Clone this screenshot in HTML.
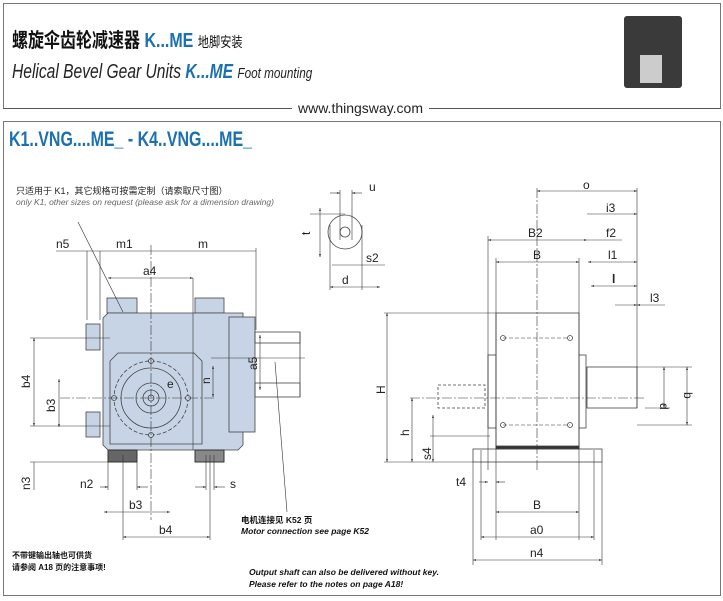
<!DOCTYPE html>
<html><head><meta charset="utf-8"><style>
body{margin:0;background:#fff;width:723px;height:601px;overflow:hidden;font-family:"Liberation Sans","Noto Sans CJK SC",sans-serif}
.abs{position:absolute;white-space:nowrap}
</style></head><body>
<div class="abs" style="left:3px;top:3px;width:716px;height:104px;border:1px solid #777;border-bottom:1.5px solid #555"></div>
<div class="abs" style="left:12px;top:24px;font-size:20px;font-weight:bold;color:#111;transform:scaleX(0.8);transform-origin:0 0">螺旋伞齿轮减速器 <span style="color:#1a70b0">K...ME</span> <span style="font-size:14px;font-weight:normal">地脚安装</span></div>
<div class="abs" style="left:12px;top:61px;font-size:20px;font-style:italic;color:#222;transform:scaleX(0.78);transform-origin:0 0">Helical Bevel Gear Units <b style="color:#1a70b0">K...ME</b> <span style="font-size:15px">Foot mounting</span></div>
<div class="abs" style="left:624px;top:16px;width:58px;height:72px;background:#3a3a3a;border-radius:3px"></div>
<div class="abs" style="left:640px;top:55px;width:22px;height:28px;background:#ccc"></div>
<div class="abs" style="left:292px;top:100px;background:#fff;padding:0 6px;font-size:14px;color:#222">www.thingsway.com</div>
<div class="abs" style="left:3px;top:121px;width:716px;height:473px;border:1px solid #777"></div>
<div class="abs" style="left:9px;top:128px;font-size:21px;font-weight:bold;color:#1a70b0;transform:scaleX(0.76);transform-origin:0 0">K1..VNG....ME_ - K4..VNG....ME_</div>
<div class="abs" style="left:16px;top:184px;font-size:9px;color:#222">只适用于 K1，其它规格可按需定制（请索取尺寸图）</div>
<div class="abs" style="left:16px;top:197px;font-size:8.5px;font-style:italic;color:#666">only K1, other sizes on request (please ask for a dimension drawing)</div>
<div class="abs" style="left:241px;top:514px;font-size:8.5px;font-weight:bold;color:#111">电机连接见 K52 页</div>
<div class="abs" style="left:241px;top:526px;font-size:8.5px;font-weight:bold;font-style:italic;color:#111">Motor connection see page K52</div>
<div class="abs" style="left:12px;top:550px;font-size:8px;font-weight:bold;color:#111">不带键输出轴也可供货</div>
<div class="abs" style="left:12px;top:562px;font-size:8px;font-weight:bold;color:#111">请参阅 A18 页的注意事项!</div>
<div class="abs" style="left:249px;top:567px;font-size:8.5px;font-weight:bold;font-style:italic;color:#111">Output shaft can also be delivered without key.</div>
<div class="abs" style="left:249px;top:579px;font-size:8.5px;font-weight:bold;font-style:italic;color:#111">Please refer to the notes on page A18!</div>
<svg class="abs" style="left:0;top:0" width="723" height="601" font-family="Liberation Sans" font-size="11" fill="#222">
<defs><marker id="a" viewBox="0 0 10 10" refX="10" refY="5" markerWidth="8" markerHeight="5" orient="auto-start-reverse"><path d="M0,2L10,5L0,8z" fill="#222"/></marker></defs>
<g stroke="#444" stroke-width="0.8" fill="#c7d4e6">
<rect x="107" y="298" width="30" height="15"/><rect x="195" y="298" width="29" height="15"/>
<rect x="86" y="324" width="14" height="26"/><rect x="86" y="412" width="14" height="25"/>
<path d="M108,313H243V445L238,450H108L103,445V318Z"/>
<rect x="229" y="317" width="26" height="115"/>
<path d="M118,353H194L202,361V444H110V361Z"/>
<circle cx="151" cy="398" r="30" fill="none"/><circle cx="151" cy="398" r="37" fill="none" stroke-dasharray="4 2"/>
<circle cx="151" cy="398" r="15"/><circle cx="151" cy="398" r="8"/><circle cx="151" cy="398" r="3"/>
<circle cx="151" cy="361" r="2.5"/><circle cx="151" cy="435" r="2.5"/><circle cx="114" cy="398" r="2.5"/><circle cx="188" cy="398" r="2.5"/>
</g>
<rect x="108" y="450" width="29" height="12" fill="#666" stroke="#333"/>
<rect x="195" y="450" width="29" height="12" fill="#888" stroke="#333"/>
<g fill="none" stroke="#444" stroke-width="0.8">
<rect x="255" y="332" width="45" height="11"/><rect x="255" y="383" width="45" height="14"/>
<line x1="300" y1="332" x2="300" y2="397"/>
<circle cx="345" cy="232" r="17"/><circle cx="345" cy="232" r="5"/>
</g>
<g stroke="#333" stroke-width="0.6" fill="none">
<line x1="151" y1="245" x2="151" y2="520" stroke-dasharray="10 2 2 2"/>
<line x1="60" y1="398" x2="215" y2="398" stroke-dasharray="10 2 2 2"/>
<line x1="78" y1="222" x2="123" y2="312"/><line x1="287" y1="512" x2="275" y2="362"/>
<line x1="211" y1="358" x2="305" y2="358"/>
<line x1="56" y1="251" x2="256" y2="251"/>
<line x1="108" y1="278" x2="193" y2="278" marker-start="url(#a)" marker-end="url(#a)"/>
<line x1="193" y1="278" x2="193" y2="450"/><line x1="87" y1="251" x2="87" y2="320"/><line x1="100" y1="251" x2="100" y2="320"/><line x1="256" y1="248" x2="256" y2="330"/>
<line x1="34" y1="338" x2="34" y2="426" marker-start="url(#a)" marker-end="url(#a)"/>
<line x1="30" y1="338" x2="110" y2="338"/><line x1="30" y1="426" x2="110" y2="426"/>
<line x1="59" y1="379" x2="59" y2="427" marker-start="url(#a)" marker-end="url(#a)"/>
<line x1="34" y1="462" x2="34" y2="490"/><line x1="30" y1="462" x2="108" y2="462"/>
<line x1="104" y1="512" x2="170" y2="512" marker-start="url(#a)" marker-end="url(#a)"/>
<line x1="123" y1="537" x2="210" y2="537" marker-start="url(#a)" marker-end="url(#a)"/>
<line x1="123" y1="455" x2="123" y2="540"/><line x1="210" y1="455" x2="210" y2="540"/>
<line x1="108" y1="462" x2="108" y2="490"/><line x1="137" y1="462" x2="137" y2="490"/>
<line x1="100" y1="487" x2="108" y2="487" marker-end="url(#a)"/><line x1="148" y1="487" x2="137" y2="487" marker-end="url(#a)"/>
<line x1="195" y1="487" x2="206" y2="487" marker-end="url(#a)"/><line x1="225" y1="487" x2="214" y2="487" marker-end="url(#a)"/>
<line x1="206" y1="455" x2="206" y2="490"/><line x1="214" y1="455" x2="214" y2="490"/>
<line x1="213" y1="366" x2="213" y2="397" marker-start="url(#a)" marker-end="url(#a)"/>
<line x1="260" y1="335" x2="260" y2="390" marker-start="url(#a)" marker-end="url(#a)"/>
<line x1="320" y1="208" x2="320" y2="257" marker-start="url(#a)" marker-end="url(#a)"/><line x1="310" y1="214" x2="345" y2="214"/>
<line x1="330" y1="287" x2="380" y2="287" marker-start="url(#a)" marker-end="url(#a)"/>
<line x1="330" y1="225" x2="330" y2="290"/><line x1="362" y1="225" x2="362" y2="290"/>
<line x1="332" y1="265" x2="385" y2="265"/>
<line x1="330" y1="193" x2="340" y2="193" marker-end="url(#a)"/><line x1="362" y1="193" x2="352" y2="193" marker-end="url(#a)"/>
<line x1="340" y1="190" x2="340" y2="240"/><line x1="352" y1="190" x2="352" y2="240"/>
</g>
<g font-size="12">
<text x="56" y="248">n5</text><text x="116" y="248">m1</text><text x="198" y="248">m</text><text x="143" y="275">a4</text>
<text x="30" y="388" transform="rotate(-90 30 388)">b4</text><text x="55" y="412" transform="rotate(-90 55 412)">b3</text>
<text x="30" y="490" transform="rotate(-90 30 490)">n3</text><text x="80" y="488">n2</text><text x="230" y="488">s</text>
<text x="129" y="509">b3</text><text x="159" y="534">b4</text>
<text x="210" y="384" transform="rotate(-90 210 384)">n</text><text x="257" y="370" transform="rotate(-90 257 370)">a5</text>
<text x="167" y="388">e</text>
<text x="369" y="191">u</text><text x="366" y="262">s2</text><text x="342" y="284">d</text><text x="310" y="235" transform="rotate(-90 310 235)">t</text>
</g>
<g stroke="#444" stroke-width="0.8" fill="#fff">
<rect x="473" y="449" width="129" height="13"/>
<rect x="438" y="385" width="47" height="23" stroke-dasharray="3 2"/>
<rect x="488" y="355" width="8" height="73"/><rect x="579" y="355" width="7" height="73"/>
<rect x="496" y="313" width="83" height="135"/>
<rect x="587" y="367" width="50" height="41"/>
<rect x="496" y="446" width="83" height="3" fill="#333"/>
<circle cx="503" cy="338" r="2.5"/><circle cx="570" cy="338" r="2.5"/><circle cx="503" cy="425" r="2.5"/><circle cx="570" cy="425" r="2.5"/>
</g>
<g stroke="#333" stroke-width="0.6" fill="none">
<line x1="537" y1="188" x2="537" y2="470" stroke-dasharray="10 2 2 2"/>
<line x1="503" y1="338" x2="570" y2="338" stroke-dasharray="4 2"/><line x1="503" y1="425" x2="570" y2="425" stroke-dasharray="4 2"/>
<line x1="410" y1="398" x2="645" y2="398" stroke-dasharray="10 2 2 2"/>
<line x1="637" y1="188" x2="637" y2="408"/>
<line x1="537" y1="191" x2="637" y2="191" marker-start="url(#a)" marker-end="url(#a)"/>
<line x1="587" y1="214" x2="637" y2="214" marker-end="url(#a)"/>
<line x1="488" y1="240" x2="587" y2="240" marker-start="url(#a)" marker-end="url(#a)"/><line x1="587" y1="240" x2="622" y2="240"/>
<line x1="496" y1="262" x2="579" y2="262" marker-start="url(#a)" marker-end="url(#a)"/>
<line x1="588" y1="262" x2="637" y2="262" marker-start="url(#a)" marker-end="url(#a)"/>
<line x1="591" y1="286" x2="637" y2="286" marker-start="url(#a)" marker-end="url(#a)"/>
<line x1="615" y1="305" x2="637" y2="305" marker-end="url(#a)"/><line x1="665" y1="305" x2="637" y2="305" marker-end="url(#a)"/>
<line x1="488" y1="236" x2="488" y2="470"/><line x1="496" y1="258" x2="496" y2="540"/><line x1="579" y1="258" x2="579" y2="540"/>
<line x1="384" y1="313" x2="496" y2="313"/><line x1="384" y1="462" x2="473" y2="462"/>
<line x1="387" y1="313" x2="387" y2="462" marker-start="url(#a)" marker-end="url(#a)"/>
<line x1="412" y1="398" x2="412" y2="462" marker-start="url(#a)" marker-end="url(#a)"/>
<line x1="433" y1="415" x2="433" y2="462" marker-start="url(#a)" marker-end="url(#a)"/><line x1="430" y1="436" x2="490" y2="436"/>
<line x1="637" y1="367" x2="692" y2="367"/><line x1="645" y1="408" x2="670" y2="408"/><line x1="637" y1="425" x2="692" y2="425"/>
<line x1="664" y1="367" x2="664" y2="408" marker-start="url(#a)" marker-end="url(#a)"/>
<line x1="687" y1="367" x2="687" y2="425" marker-start="url(#a)" marker-end="url(#a)"/>
<line x1="473" y1="462" x2="473" y2="565"/><line x1="602" y1="462" x2="602" y2="565"/>
<line x1="481" y1="450" x2="481" y2="540"/><line x1="594" y1="450" x2="594" y2="540"/>
<line x1="496" y1="512" x2="579" y2="512" marker-start="url(#a)" marker-end="url(#a)"/>
<line x1="481" y1="537" x2="594" y2="537" marker-start="url(#a)" marker-end="url(#a)"/>
<line x1="473" y1="560" x2="602" y2="560" marker-start="url(#a)" marker-end="url(#a)"/>
<line x1="479" y1="482" x2="488" y2="482" marker-end="url(#a)"/><line x1="505" y1="482" x2="496" y2="482" marker-end="url(#a)"/>
</g>
<g font-size="12">
<text x="583" y="189">o</text><text x="606" y="212">i3</text><text x="528" y="237">B2</text><text x="606" y="237">f2</text>
<text x="533" y="259">B</text><text x="608" y="259">l1</text><text x="612" y="283" font-weight="bold">l</text><text x="650" y="302">l3</text>
<text x="385" y="394" transform="rotate(-90 385 394)">H</text><text x="409" y="436" transform="rotate(-90 409 436)">h</text>
<text x="431" y="460" transform="rotate(-90 431 460)">s4</text><text x="660" y="403" transform="rotate(90 660 403)">d</text>
<text x="684" y="392" transform="rotate(90 684 392)">b</text>
<text x="456" y="486">t4</text><text x="533" y="509">B</text><text x="530" y="534">a0</text><text x="530" y="557">n4</text>
</g>
</svg>
</body></html>
